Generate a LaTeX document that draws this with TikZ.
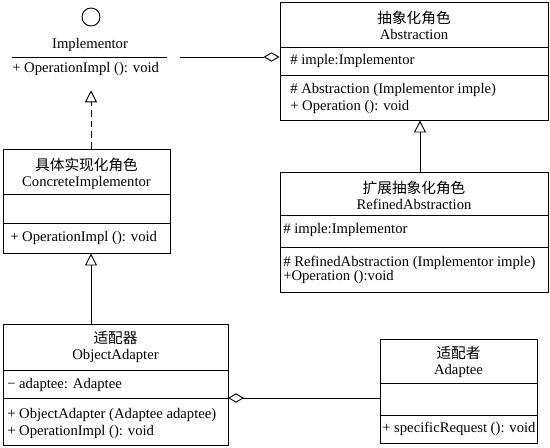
\documentclass[tikz,border=0pt]{standalone}
\usepackage{fontspec}
\setmainfont{Liberation Serif}
\newfontfamily\cjk{Noto Sans CJK SC}
\usetikzlibrary{arrows.meta}

\begin{document}
\begin{tikzpicture}[
		x=0.75pt, y=-0.75pt,
		every node/.style={font=\fontsize{11}{12}\selectfont, inner sep=0pt},
		classbox/.style={rectangle, draw, line width=0.7pt},
		title/.style={align=center},
		member/.style={anchor=west},
		generalize/.style={-{Triangle[open, length=9pt, width=9pt]}, line width=0.7pt},
		realize/.style={generalize, dashed, dash pattern=on 5pt off 3pt},
		aggregate/.style={-{Diamond[open, length=12pt, width=7pt]}, line width=0.7pt}
	]
  \useasboundingbox (0,0) rectangle (550,447);
  \node (impl_icon) [circle, draw, line width=0.7pt, minimum size=13.5pt] at (91,17) {};
  \node (impl) [minimum width=133.5pt, minimum height=49.5pt] at (91,57) {};
  \node (impl_name) [title] at (90,45) {Implementor};
  \node (impl_op) [member] at (12,69) {+ OperationImpl (): void};
  \draw [line width=0.7pt] (12,57) -- (167,57);

  \node (abs) [classbox, minimum width=201pt, minimum height=88.5pt] at (414,61) {};
  \node (abs_name) [title] at (414,25) {{\cjk 抽象化角色}\\Abstraction};
  \node (abs_attr) [member] at (290,61) {\# imple:Implementor};
  \node (abs_op1) [member] at (290,90) {\# Abstraction (Implementor imple)};
  \node (abs_op2) [member] at (290,107) {+ Operation (): void};
  \draw [line width=0.7pt] (abs.west |- 0,47) -- (abs.east |- 0,47);
  \draw [line width=0.7pt] (abs.west |- 0,75) -- (abs.east |- 0,75);

  \node (ref) [classbox, minimum width=201pt, minimum height=90pt] at (414,232) {};
  \node (ref_name) [title] at (414,195) {{\cjk 扩展抽象化角色}\\RefinedAbstraction};
  \node (ref_attr) [member] at (283,230) {\# imple:Implementor};
  \node (ref_op1) [member] at (283,263) {\# RefinedAbstraction (Implementor imple)};
  \node (ref_op2) [member] at (283,277) {+Operation ():void};
  \draw [line width=0.7pt] (ref.west |- 0,215) -- (ref.east |- 0,215);
  \draw [line width=0.7pt] (ref.west |- 0,247) -- (ref.east |- 0,247);

  \node (conc) [classbox, minimum width=125.25pt, minimum height=78pt] at (86.5,201) {};
  \node (conc_name) [title] at (86.5,173.5) {{\cjk 具体实现化角色}\\ConcreteImplementor};
  \node (conc_op) [member] at (10,238) {+ OperationImpl (): void};
  \draw [line width=0.7pt] (conc.west |- 0,194) -- (conc.east |- 0,194);
  \draw [line width=0.7pt] (conc.west |- 0,223) -- (conc.east |- 0,223);

  \node (adapter) [classbox, minimum width=168.75pt, minimum height=90.75pt] at (115.5,384.5) {};
  \node (adapter_name) [title] at (115.5,346.5) {{\cjk 适配器}\\ObjectAdapter};
  \node (adapter_attr) [member] at (7,385) {− adaptee: Adaptee};
  \node (adapter_op1) [member] at (7,415) {+ ObjectAdapter (Adaptee adaptee)};
  \node (adapter_op2) [member] at (7,432) {+ OperationImpl (): void};
  \coordinate (adapter_div) at (228,398);
  \draw [line width=0.7pt] (adapter.west |- adapter_div) -- (adapter_div);
  \draw [line width=0.7pt] (adapter.west |- 0,370) -- (adapter.east |- 0,370);

  \node (adaptee) [classbox, minimum width=117.75pt, minimum height=78pt] at (458.5,391) {};
  \node (adaptee_name) [title] at (458.5,361.5) {{\cjk 适配者}\\Adaptee};
  \node (adaptee_op) [member] at (382,429) {+ specificRequest (): void};
  \draw [line width=0.7pt] (adaptee.west |- 0,383) -- (adaptee.east |- 0,383);
  \draw [line width=0.7pt] (adaptee.west |- 0,415) -- (adaptee.east |- 0,415);

  \draw [aggregate] (impl.east) -- (impl.east -| abs.west);
  \draw [realize] (conc.north -| impl.south) -- (impl.south);
  \draw [generalize] ([xshift=4.5pt]ref.north) -- ([xshift=4.5pt]abs.south);
  \draw [generalize] (adapter.north -| impl.south) -- (impl.south |- conc.south);
  \draw [aggregate] (adapter_div -| adaptee.west) -- (adapter_div);
\end{tikzpicture}
\end{document}
